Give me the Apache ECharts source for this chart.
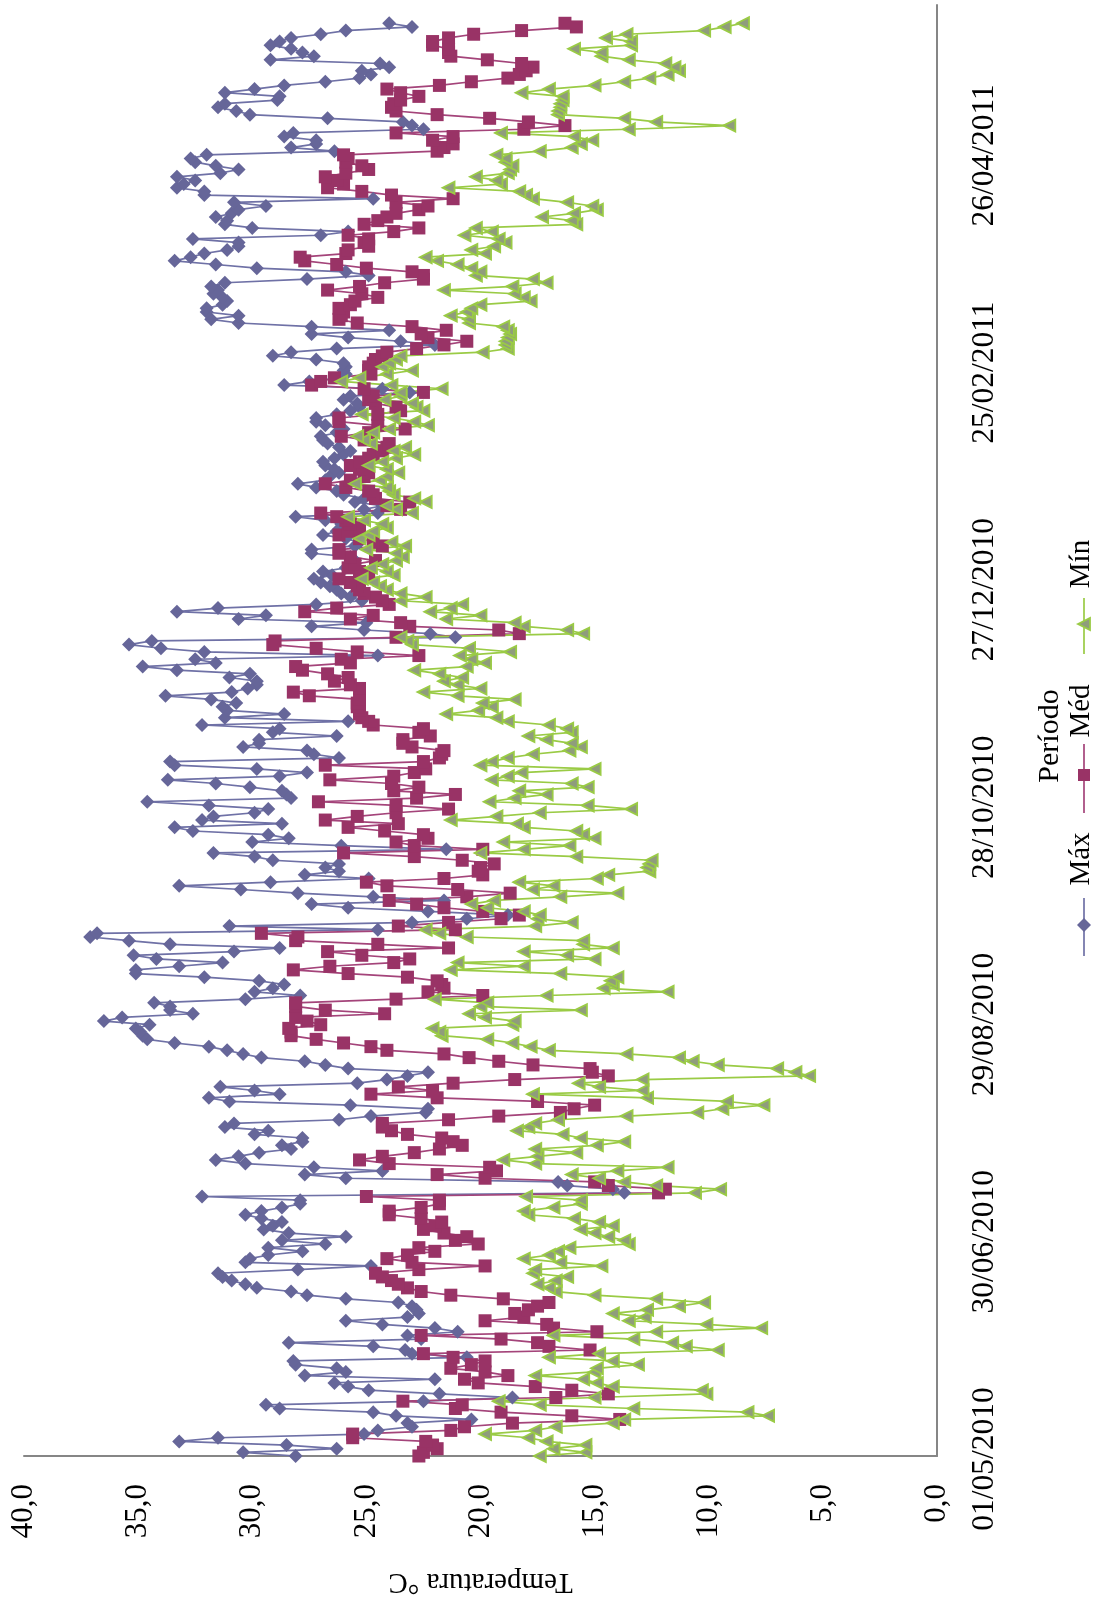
<!DOCTYPE html>
<html><head><meta charset="utf-8">
<style>html,body{margin:0;padding:0;background:#fff}#c{width:1097px;height:1603px}</style>
<script src="https://cdn.jsdelivr.net/npm/echarts@6/dist/echarts.min.js"></script>
</head><body><div id="c"></div>
<script>
const dateLabels=["01/05/2010","30/06/2010","29/08/2010","28/10/2010","27/12/2010","25/02/2011","26/04/2011"];
const tempTicks=[0,5,10,15,20,25,30,35,40];
const maxValues=[
28.1,30.4,26.3,28.5,33.2,31.5,25.1,24.5,23.0,23.2,
20.4,23.7,24.7,28.8,29.4,22.5,18.6,21.8,24.9,25.8,
26.4,22.0,27.7,25.9,26.3,28.1,28.2,20.6,23.0,23.3,
24.7,28.4,22.6,23.2,21.0,22.0,24.3,25.9,23.2,22.7,
22.8,23.0,23.6,25.9,27.6,28.3,29.8,30.3,30.9,31.3,
31.5,28.0,24.8,30.3,30.1,29.3,27.8,29.3,26.8,28.7,
25.9,28.4,29.5,29.1,28.7,29.6,30.3,29.6,28.7,27.9,
27.9,32.2,13.7,14.2,16.2,16.6,25.9,27.7,24.3,27.3,
30.3,31.6,30.6,29.7,28.3,28.7,27.8,27.8,29.9,29.3,
31.2,30.8,26.2,24.8,22.4,22.3,25.7,31.0,31.9,28.8,
29.9,31.4,25.4,24.1,23.2,22.3,25.8,26.8,27.7,29.6,
30.4,31.1,31.9,33.4,34.6,34.8,34.9,35.1,34.5,36.5,
35.7,32.6,33.6,33.6,34.3,30.3,27.9,29.9,29.1,28.6,
29.7,32.1,35.1,35.1,33.2,31.3,34.2,35.2,30.8,28.8,
33.6,35.4,37.1,36.8,24.5,31.0,23.0,20.6,18.8,22.3,
25.8,27.4,21.6,24.7,28.0,30.5,33.2,29.2,24.9,27.7,
26.2,26.8,26.2,29.1,29.9,31.7,21.5,26.1,30.0,28.4,
29.3,32.6,33.4,28.7,32.2,31.7,29.9,29.3,31.9,34.6,
28.3,28.5,28.7,30.1,31.6,33.7,28.8,27.6,29.8,33.4,
33.6,26.2,27.3,27.6,30.4,29.7,29.7,26.3,29.1,28.8,
32.2,25.8,31.2,28.6,31.1,31.3,30.7,31.8,33.8,30.9,
30.2,29.8,29.8,31.0,30.1,33.3,34.8,31.6,32.5,24.5,
32.1,34.0,35.4,34.4,21.1,22.2,25.1,27.4,25.0,30.6,
29.4,33.3,31.5,27.2,25.2,25.7,26.1,26.3,26.6,27.0,
27.3,26.5,26.9,25.9,25.6,25.5,25.7,27.4,27.4,25.5,
25.3,25.9,26.9,26.3,25.5,26.1,26.8,28.1,24.5,25.1,
24.3,25.5,25.1,26.0,26.3,27.2,28.0,26.8,26.6,26.2,
26.4,26.8,26.9,26.4,26.0,25.7,26.2,26.7,26.9,27.0,
26.3,26.0,26.8,27.2,27.2,26.3,25.7,25.3,25.4,26.0,
25.7,23.1,24.3,28.6,27.5,26.1,25.9,26.0,25.9,26.0,
27.2,29.1,28.3,26.3,22.0,23.5,25.8,27.4,24.0,27.4,
30.6,31.8,30.6,32.0,32.0,31.3,31.1,31.3,31.7,31.5,
31.8,31.2,27.6,24.9,25.9,29.8,31.6,33.4,32.7,32.1,
31.1,30.6,30.6,32.6,27.0,25.8,30.0,31.2,31.1,31.6,
30.9,30.6,29.4,30.8,24.7,32.1,32.1,33.3,33.0,32.5,
33.3,31.4,30.6,31.6,32.5,32.7,32.0,26.4,28.3,27.2,
27.2,28.6,28.2,22.5,23.0,23.4,26.7,30.1,30.7,31.5,
31.2,28.9,28.8,31.2,29.9,28.6,26.8,25.3,24.8,25.2,
24.0,24.4,29.2,27.3,27.8,28.3,29.2,28.8,28.3,27.0,
25.9,23.0,24.0];
const medValues=[
22.7,22.5,21.9,22.1,22.4,25.6,25.6,21.3,20.7,18.6,
13.9,16.0,19.1,21.1,20.8,23.4,16.7,14.4,16.0,17.6,
20.1,20.7,18.8,19.8,21.3,20.4,19.8,21.2,22.5,15.2,
17.0,17.5,19.1,22.6,14.9,16.8,17.1,19.8,18.1,18.5,
17.9,17.5,17.0,19.0,21.3,22.6,23.2,23.6,23.9,24.3,
24.6,22.7,19.8,23.0,24.1,23.2,22.0,22.7,20.1,21.1,
20.6,21.6,22.5,22.0,21.7,22.6,24.0,24.0,22.6,21.8,
21.8,25.0,12.2,11.9,14.4,15.0,19.8,21.9,19.3,19.6,
24.0,25.3,24.3,22.9,21.8,20.8,21.2,21.7,23.2,23.9,
24.3,24.3,21.4,19.2,16.5,15.9,15.0,17.5,21.9,24.8,
22.1,23.6,21.2,18.5,14.4,15.1,15.2,17.7,19.2,20.5,
21.6,24.1,24.8,26.0,27.2,28.3,28.3,28.4,27.0,27.6,
28.1,24.2,26.8,28.1,28.1,23.7,19.9,22.3,21.6,21.7,
21.9,23.2,25.8,28.2,26.6,23.8,23.1,25.2,26.7,21.4,
24.5,28.1,28.0,29.6,21.1,23.6,21.4,19.1,18.3,19.9,
21.6,22.8,24.0,20.6,18.7,21.0,24.1,25.0,21.6,19.9,
20.1,20.0,19.4,20.8,22.9,26.0,19.9,22.9,23.7,22.3,
22.5,24.2,25.8,23.6,26.8,25.4,23.7,21.4,23.7,27.1,
22.8,21.1,23.8,22.7,23.9,26.6,23.8,22.9,22.4,26.8,
22.5,21.8,21.7,21.6,23.0,23.4,23.4,22.2,22.7,22.5,
24.7,24.9,25.2,25.3,25.3,25.4,25.4,25.3,27.5,28.2,
25.3,25.7,26.4,25.8,26.7,27.8,28.1,25.7,26.1,22.7,
25.4,27.2,29.1,29.0,23.7,18.3,19.2,23.1,23.5,25.7,
24.7,27.7,26.3,24.0,24.3,24.6,25.1,25.3,25.4,25.7,
26.2,24.9,25.3,25.8,25.5,24.6,25.7,26.2,26.2,24.3,
24.7,25.3,26.2,25.8,25.3,25.7,25.9,26.3,27.0,23.5,
24.1,23.1,24.6,24.7,24.9,25.9,26.8,25.7,25.1,24.9,
25.3,25.7,25.3,24.9,24.7,24.3,24.1,24.0,25.1,26.1,
24.9,23.3,24.5,26.2,26.2,24.5,23.5,23.7,24.6,24.9,
24.7,22.5,25.1,27.4,27.0,26.4,24.8,24.9,24.9,24.7,
24.6,24.3,24.1,22.8,21.6,20.6,22.3,22.6,21.5,23.0,
25.4,26.2,26.1,26.0,26.2,25.7,25.5,24.5,25.2,26.7,
25.3,24.2,22.5,22.5,23.0,25.0,26.3,27.7,27.9,25.9,
25.8,24.9,25.1,24.9,25.8,23.8,22.7,25.1,24.5,24.1,
23.7,22.7,22.3,23.7,21.2,23.9,25.2,26.7,26.0,26.3,
26.8,25.9,24.9,25.2,25.9,25.8,26.0,21.9,21.6,21.2,
22.1,21.2,23.7,18.1,16.3,17.9,19.6,21.9,23.7,23.9,
23.8,23.5,22.7,23.5,24.1,21.8,20.4,18.8,18.3,18.0,
17.7,18.2,19.7,21.3,21.4,21.4,22.1,22.1,21.4,20.3,
18.2,15.8,16.3];
const minValues=[
17.4,15.4,16.8,15.4,17.1,17.9,19.8,17.6,16.7,14.2,
13.7,7.4,8.3,13.3,17.4,19.2,15.0,10.1,10.3,14.2,
14.9,15.5,17.6,15.0,14.9,13.1,14.2,17.0,14.8,9.6,
11.0,11.6,13.3,16.8,12.3,7.7,10.1,13.5,12.8,14.2,
12.7,11.3,10.2,12.3,15.0,16.7,17.0,17.5,16.7,16.2,
17.7,17.6,14.7,16.5,18.1,17.0,16.6,16.1,13.5,13.7,
14.4,15.0,15.6,14.2,14.8,15.9,17.9,18.1,16.8,15.6,
15.6,18.0,10.6,9.5,12.3,13.7,14.8,16.0,14.0,11.8,
17.6,19.0,17.5,15.8,17.6,14.9,13.7,15.6,16.4,18.4,
17.9,17.6,16.6,13.6,10.5,9.4,7.6,9.2,12.7,17.7,
12.9,14.8,15.7,12.9,5.6,6.2,7.0,9.6,10.7,11.3,
13.6,17.0,17.8,18.6,19.7,21.7,21.8,22.1,18.6,18.5,
19.8,20.5,15.6,20.0,19.7,22.0,17.1,11.8,14.6,14.2,
14.3,14.0,16.5,21.3,18.1,21.0,15.0,16.2,18.1,14.2,
15.5,15.5,20.6,21.8,22.4,17.6,16.0,17.5,17.4,18.1,
19.7,20.4,19.4,16.5,14.0,17.7,16.8,18.3,14.9,14.4,
12.6,12.7,12.6,12.5,15.8,20.0,18.1,16.1,19.0,15.0,
15.5,15.8,18.1,18.4,21.3,19.3,17.4,13.4,15.3,19.6,
18.5,17.1,18.3,15.3,16.0,19.5,18.8,18.2,15.0,20.0,
19.5,18.8,17.7,16.1,15.6,16.0,17.1,17.9,16.0,16.2,
17.0,18.8,19.3,21.5,20.1,19.5,19.9,18.5,21.0,22.5,
20.0,21.0,21.6,20.8,21.8,22.9,20.6,19.8,20.4,20.9,
18.7,20.5,23.0,23.2,23.5,15.5,16.2,18.1,18.5,21.5,
20.0,22.2,21.3,20.8,23.5,22.4,23.5,24.1,24.4,24.7,
25.2,23.8,24.1,24.8,24.3,23.7,23.4,23.7,25.0,23.3,
23.9,25.3,24.9,24.7,24.1,24.3,25.1,25.8,23.0,23.7,
24.1,22.4,22.9,23.8,24.0,24.1,25.5,24.4,24.1,23.6,
24.1,24.9,24.3,23.7,22.9,23.8,23.3,24.8,25.1,25.4,
24.7,24.0,22.3,22.9,23.8,25.2,22.5,22.8,23.0,24.2,
23.5,23.5,21.7,23.9,26.1,25.3,24.1,23.0,24.3,24.0,
23.7,23.5,19.9,18.8,18.9,18.9,18.8,18.7,18.8,19.0,
20.5,20.5,21.3,20.6,20.4,20.0,17.8,18.1,18.5,21.6,
18.6,17.1,17.7,20.2,20.0,20.4,21.0,21.9,22.4,19.8,
20.4,19.4,18.9,19.2,20.7,19.5,20.2,15.8,16.0,17.3,
15.9,14.9,15.1,16.2,17.7,18.0,18.3,21.4,19.1,19.3,
20.2,18.8,18.7,18.6,18.9,18.9,19.3,17.4,16.0,15.6,
15.1,15.9,19.1,13.5,9.1,12.3,13.7,16.6,16.6,16.5,
16.5,16.4,16.4,18.2,17.0,15.0,13.7,12.6,11.8,11.3,
11.5,11.9,13.5,14.7,14.7,15.9,13.4,13.4,14.5,13.6,
10.2,9.3,8.5];
const seriesNames=["Máx","Méd","Mín"];
const axisTitle="Temperatura °C";
const legendTitle="Período";
const font='"Liberation Serif","Times New Roman",serif';
const lastDay=397, tickStep=59.45;
const chart=echarts.init(document.getElementById('c'),null,{renderer:'canvas'});
const pts=a=>a.map((v,i)=>[v,i]);
const colMax='#666699',colMed='#993366',colMaxLine='#6f71a6',colMedLine='#a4447a',colMinLine='#9acb45',colMinFill='#8f9c7c';
function legendEntry(name,y0,y1,ty,lineColor,sym){
  return {type:'group',children:[
    {type:'line',shape:{x1:1084,y1:y0,x2:1084,y2:y1},style:{stroke:lineColor,lineWidth:1.7}},
    sym,
    {type:'text',x:1081,y:ty,rotation:Math.PI/2,style:{text:name,font:'29px '+font,fill:'#000',textAlign:'center',textVerticalAlign:'middle'}}
  ]};
}
chart.setOption({
  animation:false,backgroundColor:'#fff',
  grid:{left:24,right:160,top:5,bottom:147,containLabel:false},
  xAxis:{type:'value',inverse:true,min:tempTicks[0],max:tempTicks[tempTicks.length-1],interval:5,position:'bottom',
    name:axisTitle,nameLocation:'middle',nameGap:111,nameRotate:180,
    nameTextStyle:{fontFamily:font,fontSize:29,color:'#000'},
    axisLine:{show:true,onZero:false,lineStyle:{color:'#868686',width:2}},axisTick:{show:false},splitLine:{show:false},
    axisLabel:{rotate:90,margin:28,fontFamily:font,fontSize:31,color:'#000',formatter:v=>v.toFixed(1).replace('.',',')}},
  yAxis:{type:'value',min:0,max:lastDay,interval:tickStep,position:'right',
    axisLine:{show:true,onZero:false,lineStyle:{color:'#868686',width:2}},axisTick:{show:false},splitLine:{show:false},
    axisLabel:{rotate:90,margin:32,showMaxLabel:false,fontFamily:font,fontSize:31.5,color:'#000',align:'center',padding:[0,6,0,0],
      formatter:v=>{const k=v/tickStep,r=Math.round(k);return Math.abs(k-r)<0.01&&dateLabels[r]?dateLabels[r]:'';}}},
  series:[
    {name:seriesNames[0],type:'line',data:pts(maxValues),symbol:'diamond',symbolSize:14,showAllSymbol:true,
      lineStyle:{color:colMaxLine,width:1.7},itemStyle:{color:colMax}},
    {name:seriesNames[1],type:'line',data:pts(medValues),symbol:'rect',symbolSize:13,showAllSymbol:true,
      lineStyle:{color:colMedLine,width:1.7},itemStyle:{color:colMed}},
    {name:seriesNames[2],type:'line',data:pts(minValues),symbol:'triangle',symbolSize:12,symbolRotate:90,showAllSymbol:true,
      lineStyle:{color:colMinLine,width:1.7},itemStyle:{color:colMinFill,borderColor:colMinLine,borderWidth:1.8}}
  ],
  graphic:[
    {type:'text',x:1050,y:736,rotation:Math.PI/2,style:{text:legendTitle,font:'30px '+font,fill:'#000',textAlign:'center',textVerticalAlign:'middle'}},
    legendEntry(seriesNames[0],898,956,859,colMaxLine,{type:'polygon',shape:{points:[[1084,918],[1091,925],[1084,932],[1077,925]]},style:{fill:colMax}}),
    legendEntry(seriesNames[1],744,813,711,colMedLine,{type:'rect',shape:{x:1078,y:769,width:12,height:12},style:{fill:colMed}}),
    legendEntry(seriesNames[2],598,654,564,colMinLine,{type:'polygon',shape:{points:[[1078,624],[1090,618],[1090,630]]},style:{fill:colMinFill,stroke:colMinLine,lineWidth:1.8}})
  ]
});
</script></body></html>
